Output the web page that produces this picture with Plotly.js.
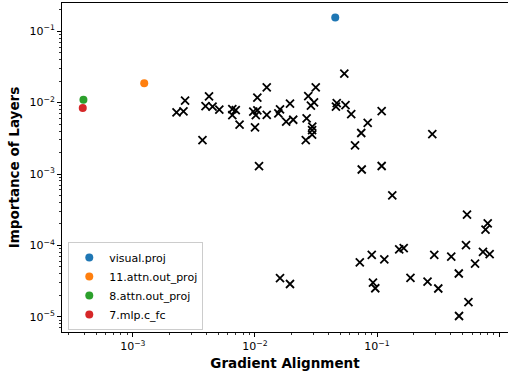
<!DOCTYPE html>
<html>
<head>
<meta charset="utf-8">
<script src="https://cdn.plot.ly/plotly-3.0.1.min.js"></script>
<style>
  html, body { margin: 0; padding: 0; background: #fff; }
  #chart { width: 508px; height: 379px; }
</style>
</head>
<body>
<div id="chart"></div>
<script>
// Remaining layers: gradient alignment vs. importance
const otherAlign = [
  0.0540, 0.01250, 0.0315, 0.00421, 0.01047, 0.02735, 0.00268, 0.00394, 0.00450, 0.00511,
  0.00228, 0.00260, 0.00653, 0.00697, 0.00653, 0.00970, 0.01047, 0.01017, 0.01250, 0.01556,
  0.01606, 0.01938, 0.01803, 0.02060, 0.02652, 0.02876, 0.03050, 0.0468, 0.0461, 0.0552,
  0.0615, 0.1092, 0.00749, 0.01002, 0.0295, 0.0294, 0.0294, 0.0261, 0.00372, 0.0839,
  0.0743, 0.0661, 0.2838, 0.01081, 0.0750, 0.1092, 0.1334, 0.5459, 0.807, 0.774,
  0.5357, 0.152, 0.1655, 0.738, 0.837, 0.0906, 0.2944, 0.4056, 0.0723, 0.1148,
  0.6355, 0.4677, 0.01606, 0.01938, 0.1880, 0.2594, 0.0927, 0.0968, 0.3177, 0.5610,
  0.4699
];
const otherImportance = [
  0.0254, 0.01637, 0.01637, 0.01225, 0.01172, 0.01230, 0.01069, 0.00895, 0.00881, 0.00800,
  0.00731, 0.00755, 0.00813, 0.00787, 0.00670, 0.00750, 0.00780, 0.00670, 0.00675, 0.00708,
  0.00805, 0.00970, 0.00543, 0.00575, 0.00602, 0.00910, 0.01010, 0.00980, 0.00877, 0.00920,
  0.00692, 0.00762, 0.00493, 0.00451, 0.00460, 0.00413, 0.00357, 0.00299, 0.00299, 0.00521,
  0.00375, 0.00251, 0.00363, 0.001285, 0.001156, 0.001294, 0.000503, 0.000269, 0.000204, 0.000166,
  0.0001007, 8.81e-5, 9.14e-5, 8.09e-5, 7.53e-5, 7.34e-5, 7.34e-5, 6.95e-5, 5.77e-5, 6.38e-5,
  5.55e-5, 4.04e-5, 3.49e-5, 2.88e-5, 3.51e-5, 3.10e-5, 3.01e-5, 2.51e-5, 2.49e-5, 1.61e-5,
  1.026e-5
];

// Highlighted layers
const layerNames = ['visual.proj', '11.attn.out_proj', '8.attn.out_proj', '7.mlp.c_fc'];
const layerAlign = [0.0455, 0.00124, 0.000394, 0.000389];
const layerImportance = [0.155, 0.0186, 0.0110, 0.0084];
const layerColors = ['#1f77b4', '#ff7f0e', '#2ca02c', '#d62728'];

// Axis tick labels
const xTickVals = [1e-3, 1e-2, 1e-1, 1];
const xTickText = ['10<sup>\u22123</sup>', '10<sup>\u22122</sup>', '10<sup>\u22121</sup>', '10<sup>0</sup>'];
const yTickVals = [1e-5, 1e-4, 1e-3, 1e-2, 1e-1];
const yTickText = ['10<sup>\u22125</sup>', '10<sup>\u22124</sup>', '10<sup>\u22123</sup>', '10<sup>\u22122</sup>', '10<sup>\u22121</sup>'];

const FONT = 'DejaVu Sans, sans-serif';

const traces = [{
  type: 'scatter', mode: 'markers',
  x: otherAlign, y: otherImportance,
  showlegend: false, hoverinfo: 'skip',
  marker: { symbol: 'x-thin', size: 8, color: '#000', line: { color: '#000', width: 1.8 } }
}];
layerNames.forEach((name, i) => {
  traces.push({
    type: 'scatter', mode: 'markers', name: name,
    x: [layerAlign[i]], y: [layerImportance[i]],
    marker: { symbol: 'circle', size: 8, color: layerColors[i] }
  });
});

const axisCommon = {
  type: 'log',
  showgrid: false, zeroline: false,
  showline: true, mirror: true, linecolor: '#000', linewidth: 1,
  ticks: 'outside', ticklen: 4, tickwidth: 1, tickcolor: '#000',
  tickfont: { family: FONT, size: 11, color: '#000' },
  minor: { ticks: 'outside', ticklen: 2, tickwidth: 0.8, tickcolor: '#000', dtick: 'D1', showgrid: false }
};

const layout = {
  width: 508, height: 379,
  margin: { l: 62, r: 0, t: 3, b: 47 },
  paper_bgcolor: '#fff', plot_bgcolor: '#fff',
  font: { family: FONT, color: '#000' },
  xaxis: Object.assign({}, axisCommon, {
    range: [-3.580, 0.073],
    tickmode: 'array', tickvals: xTickVals, ticktext: xTickText,
    title: { text: '<b>Gradient Alignment</b>', font: { family: FONT, size: 13.5, color: '#000' }, standoff: 6 }
  }),
  yaxis: Object.assign({}, axisCommon, {
    range: [-5.213, -0.605],
    tickmode: 'array', tickvals: yTickVals, ticktext: yTickText,
    title: { text: '<b>Importance of Layers</b>', font: { family: FONT, size: 13.5, color: '#000' }, standoff: 6 }
  }),
  legend: {
    x: 0.0141, y: 0.006, xanchor: 'left', yanchor: 'bottom',
    bgcolor: 'rgba(255,255,255,0.8)', bordercolor: '#cccccc', borderwidth: 1,
    font: { family: FONT, size: 11, color: '#000' }
  },
  showlegend: true
};

Plotly.newPlot('chart', traces, layout, { displayModeBar: false, staticPlot: true });
</script>
</body>
</html>
